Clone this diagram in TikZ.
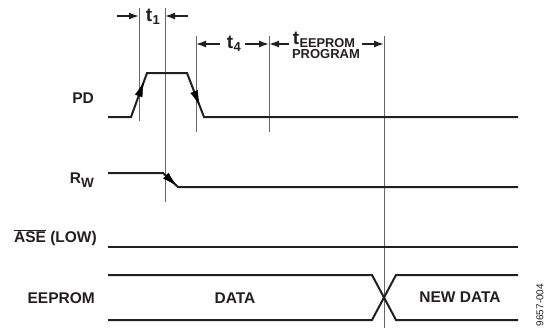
\documentclass[tikz,border=0pt]{standalone}
\usepackage{fontspec}
\setmainfont{Liberation Sans}
\usetikzlibrary{arrows.meta,decorations.markings}
\definecolor{sigc}{HTML}{231F20}
\begin{document}
\begin{tikzpicture}[x=1pt,y=-1pt,
  sig/.style={line width=2pt, draw=sigc, line join=miter},
  vline/.style={line width=0.9pt, draw=black!60},
  dimarr/.style={line width=1.4pt, draw=sigc, -{Latex[length=10pt,width=7pt]}},
  lbl/.style={font=\bfseries\fontsize{15.5}{17}\selectfont, text=sigc, inner sep=0pt},
  tbig/.style={font=\bfseries\fontsize{19}{19}\selectfont, text=sigc, inner sep=0pt},
  tsub/.style={font=\bfseries\fontsize{13}{13}\selectfont, text=sigc, inner sep=0pt},
  edgearrow/.style={postaction={decorate}, decoration={markings, mark=at position #1 with {\arrow{Latex[length=15pt,width=8pt]}}}},
]
\useasboundingbox (0,0) rectangle (545,333);

% vertical reference lines
\coordinate (A1) at (139,8);   \coordinate (A2) at (139,121);
\coordinate (B1) at (165,8);   \coordinate (B2) at (165,202);
\coordinate (C1) at (196,36);  \coordinate (C2) at (196,132);
\coordinate (D1) at (269,36);  \coordinate (D2) at (269,132);
\coordinate (E1) at (384,36);  \coordinate (E2) at (384,328);
\draw[vline] (A1) -- (A2);
\draw[vline] (B1) -- (B2);
\draw[vline] (C1) -- (C2);
\draw[vline] (D1) -- (D2);
\draw[vline] (E1) -- (E2);

% PD waveform
\coordinate (pd0) at (108,117);
\coordinate (pd1) at (131,117);
\coordinate (pd2) at (147,73);
\coordinate (pd3) at (187,73);
\coordinate (pd4) at (204,117);
\coordinate (pd5) at (518,117);
\draw[sig] (pd0) -- (pd1) -- (pd2) -- (pd3) -- (pd4) -- (pd5);
\path[draw=none, edgearrow=0.8] (pd1) -- (pd2);
\path[draw=none, edgearrow=0.74] (pd3) -- (pd4);

% R_W waveform
\coordinate (rw0) at (108,173);
\coordinate (rw1) at (163,173);
\coordinate (rw2) at (178,187);
\coordinate (rw3) at (518,187);
\draw[sig] (rw0) -- (rw1) -- (rw2) -- (rw3);
\path[draw=none, edgearrow=0.92] (rw1) -- (rw2);

% ASE
\coordinate (as0) at (108,247);
\coordinate (as1) at (518,247);
\draw[sig] (as0) -- (as1);

% EEPROM bus
\coordinate (et0) at (108,275); \coordinate (et1) at (372,275);
\coordinate (et2) at (396,275); \coordinate (et3) at (518,275);
\coordinate (eb0) at (108,320); \coordinate (eb1) at (372,320);
\coordinate (eb2) at (396,320); \coordinate (eb3) at (518,320);
\draw[sig] (et0) -- (et1) -- (eb2) -- (eb3);
\draw[sig] (eb0) -- (eb1) -- (et2) -- (et3);

% signal labels
\node[lbl, anchor=east] (lpd) at (94,98) {PD};
\node[lbl, anchor=east] (lrw) at (94,180) {R\raisebox{-3.5pt}{\fontsize{13.5}{13.5}\selectfont W}};
\node[lbl, anchor=east] (lase) at (97,238) {$\overline{\mbox{ASE}}$ (LOW)};
\node[lbl, anchor=east] (lee) at (95,298) {EEPROM};
\node[lbl] (ldata) at (235,298) {DATA};
\node[lbl] (lnew) at (460,297) {NEW DATA};

% timing dimension arrows
\coordinate (t1a) at (117,16); \coordinate (t1ah) at (139,16);
\coordinate (t1b) at (188,16); \coordinate (t1bh) at (165,16);
\draw[dimarr] (t1a) -- (t1ah);
\draw[dimarr] (t1b) -- (t1bh);
\node[tbig, anchor=base] (t1t) at (149,21) {t};
\node[tsub, anchor=base west] (t1s) at (t1t.base east) {\raisebox{-3pt}{1}};

\coordinate (t4a) at (220,44); \coordinate (t4ah) at (196,44);
\coordinate (t4b) at (245,44); \coordinate (t4bh) at (269,44);
\draw[dimarr] (t4a) -- (t4ah);
\draw[dimarr] (t4b) -- (t4bh);
\node[tbig, anchor=base] (t4t) at (230,48) {t};
\node[tsub, anchor=base west] (t4s) at (t4t.base east) {\raisebox{-3pt}{4}};

\coordinate (tea) at (289,44); \coordinate (teah) at (269,44);
\coordinate (teb) at (362,44); \coordinate (tebh) at (384,44);
\draw[dimarr] (tea) -- (teah);
\draw[dimarr] (teb) -- (tebh);
\node[tbig, anchor=base] (tet) at (296,44) {t};
\node[tsub, anchor=base west, font=\bfseries\fontsize{12.8}{13}\selectfont] (tes) at ([yshift=-3pt]tet.base east) {EEPROM};
\node[tsub, font=\bfseries\fontsize{13}{13}\selectfont] (tep) at (326,54) {PROGRAM};

% figure code
\node[rotate=90, font=\fontsize{10}{11}\selectfont, text=sigc, inner sep=0pt] (code) at (540,305) {9657-004};
\end{tikzpicture}
\end{document}
